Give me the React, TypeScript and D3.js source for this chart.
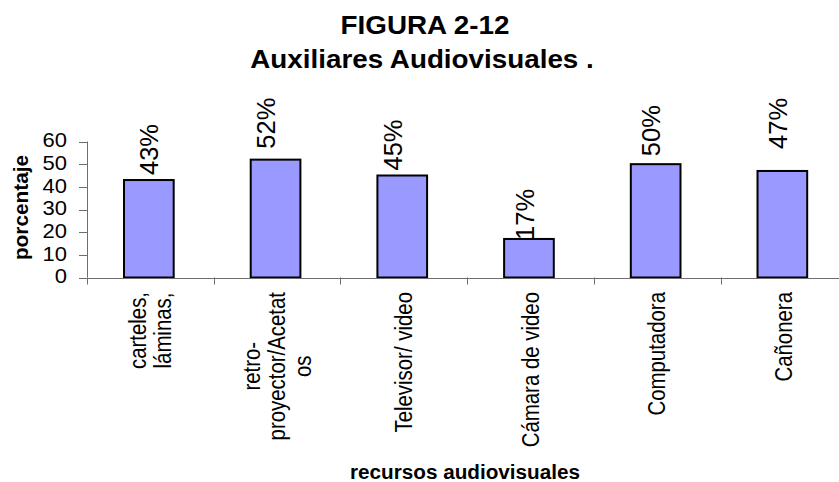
import React, { useEffect, useRef } from 'react';
import * as d3 from 'd3';

const categories = [
  'carteles,\nláminas,',
  'retro-\nproyector/Acetat\nos',
  'Televisor/ video',
  'Cámara de video',
  'Computadora',
  'Cañonera',
];
const values = [43, 52, 45, 17, 50, 47];
const yTicks = [0, 10, 20, 30, 40, 50, 60];

// hand-placed value labels in the original (px nudges: left shift, gap above bar)
const labelDx = [-1, -10, -10, -5, -5, -5];
const labelGap = [5, 11, 5, -1, 8, 22];

const FONT = '"Liberation Sans", Arial, sans-serif';

const App: React.FC = () => {
  const svgRef = useRef<SVGSVGElement>(null);

  useEffect(() => {
    if (!svgRef.current) return;
    const width = 839;
    const height = 482;
    const svg = d3.select(svgRef.current);
    svg.selectAll('*').remove();

    const left = 87;
    const step = 126.7;
    const x = d3.scaleBand<string>()
      .domain(categories)
      .range([left, left + step * categories.length])
      .paddingInner(0.6)
      .paddingOuter(0.3);
    const y = d3.scaleLinear().domain([0, 60]).range([277.5, 141.5]);

    // titles (original text is a little wide)
    const title = svg.append('g')
      .attr('font-family', FONT)
      .attr('font-weight', 'bold')
      .attr('font-size', 26)
      .attr('text-anchor', 'middle')
      .attr('fill', '#000');
    title.append('text')
      .attr('transform', 'translate(425,34.3) scale(1.07,1)')
      .text('FIGURA 2-12');
    title.append('text')
      .attr('transform', 'translate(422,68.3) scale(1.07,1)')
      .text('Auxiliares Audiovisuales .');

    // bars
    svg.append('g')
      .selectAll('rect')
      .data(values)
      .enter()
      .append('rect')
      .attr('x', (_, i) => (x(categories[i]) as number) - 1)
      .attr('y', (d) => y(d))
      .attr('width', x.bandwidth() - 1)
      .attr('height', (d) => y(0) - y(d))
      .attr('fill', '#9999ff')
      .attr('stroke', '#000')
      .attr('stroke-width', 2);

    // y axis
    const axisColor = '#6e6e6e';
    const ya = svg.append('g');
    ya.append('line')
      .attr('x1', left + 0.5).attr('x2', left + 0.5)
      .attr('y1', y(60)).attr('y2', y(0))
      .attr('stroke', axisColor);
    ya.selectAll('.yt')
      .data(yTicks)
      .enter()
      .append('line')
      .attr('x1', 79).attr('x2', left)
      .attr('y1', (d) => Math.round(y(d)) + 0.5)
      .attr('y2', (d) => Math.round(y(d)) + 0.5)
      .attr('stroke', axisColor);
    ya.selectAll('.yl')
      .data(yTicks)
      .enter()
      .append('text')
      .attr('transform', (d) => `translate(67,${y(d)}) scale(1.1,1)`)
      .attr('dy', '0.29em')
      .attr('text-anchor', 'end')
      .attr('font-family', FONT)
      .attr('font-size', 20)
      .attr('fill', '#000')
      .text((d) => d);

    // x axis
    const xa = svg.append('g');
    xa.append('line')
      .attr('x1', 79).attr('x2', width)
      .attr('y1', Math.round(y(0)) + 0.5).attr('y2', Math.round(y(0)) + 0.5)
      .attr('stroke', axisColor);
    const tickXs = d3.range(categories.length + 1).map((i) => left + i * x.step());
    xa.selectAll('.xt')
      .data(tickXs)
      .enter()
      .append('line')
      .attr('x1', (d) => Math.round(d) + 0.5).attr('x2', (d) => Math.round(d) + 0.5)
      .attr('y1', y(0)).attr('y2', y(0) + 7)
      .attr('stroke', axisColor);

    // category labels (rotated, multi-line, centred lines)
    const catFs = 20.4;
    const sx = 1.13;
    const lh = 25.5 / sx;
    categories.forEach((cat, i) => {
      const cx = (x(cat) as number) + x.bandwidth() / 2;
      const lines = cat.split('\n');
      const g = svg.append('g');
      const t = g.append('text')
        .attr('font-family', FONT)
        .attr('font-size', catFs)
        .attr('text-anchor', 'middle')
        .attr('fill', '#000');
      lines.forEach((ln, j) => {
        t.append('tspan')
          .attr('x', 0)
          .attr('y', catFs * 0.35 + (j - (lines.length - 1) / 2) * lh)
          .text(ln);
      });
      let maxLen = 0;
      t.selectAll<SVGTSpanElement, unknown>('tspan').each(function () {
        maxLen = Math.max(maxLen, this.getComputedTextLength());
      });
      g.attr('transform', `translate(${cx},${292 + maxLen / 2}) scale(${sx},1) rotate(-90)`);
    });

    // value labels
    values.forEach((v, i) => {
      const cx = (x(categories[i]) as number) + x.bandwidth() / 2 + labelDx[i];
      svg.append('text')
        .attr('transform', `translate(${cx},${y(v) - labelGap[i]}) rotate(-90)`)
        .attr('dy', '0.32em')
        .attr('font-family', FONT)
        .attr('font-size', 25.5)
        .attr('fill', '#000')
        .text(`${v}%`);
    });

    // axis titles
    svg.append('text')
      .attr('transform', `translate(28,207.5) rotate(-90)`)
      .attr('text-anchor', 'middle')
      .attr('font-family', FONT)
      .attr('font-weight', 'bold')
      .attr('font-size', 20.8)
      .attr('fill', '#000')
      .text('porcentaje');
    svg.append('text')
      .attr('x', 465)
      .attr('y', 479)
      .attr('text-anchor', 'middle')
      .attr('font-family', FONT)
      .attr('font-weight', 'bold')
      .attr('font-size', 20.7)
      .attr('fill', '#000')
      .text('recursos audiovisuales');

    svg.attr('width', width).attr('height', height);
  }, []);

  return (
    <svg
      ref={svgRef}
      width={839}
      height={482}
      style={{ position: 'absolute', left: 0, top: 0, background: '#fff', display: 'block' }}
    />
  );
};

export default App;
